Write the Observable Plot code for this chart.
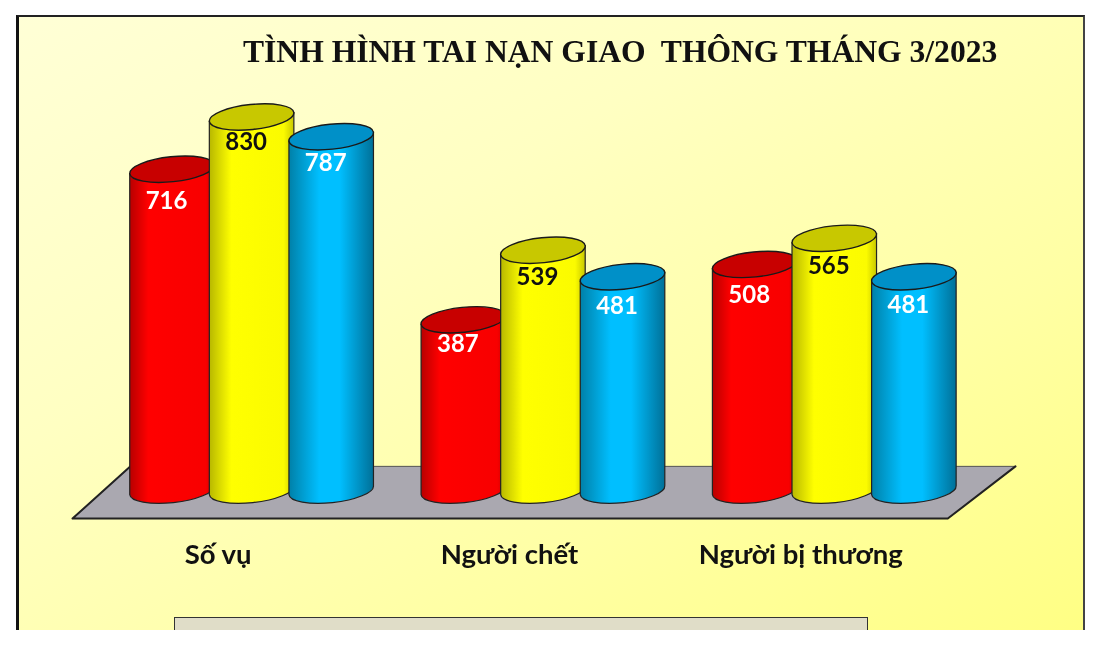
<!DOCTYPE html>
<html lang="vi">
<head>
<meta charset="utf-8">
<script src="https://cdn.jsdelivr.net/npm/d3@7"></script>
<script src="https://cdn.jsdelivr.net/npm/@observablehq/plot@0.6"></script>
<style>
  html, body { margin: 0; padding: 0; background: #fff; width: 1100px; height: 645px; overflow: hidden; }
  #panel { position: absolute; left: 16px; top: 15px; width: 1069px; height: 615px; box-sizing: border-box;
    border-left: 3px solid #111; border-top: 2px solid #222; border-right: 2px solid #444;
    background: linear-gradient(150deg, #ffffd6 0%, #ffffc2 35%, #ffffa4 70%, #ffff84 100%); }
  #box { position: absolute; left: 174px; top: 617px; width: 694px; height: 13px; box-sizing: border-box;
    border: 1.5px solid #333; border-bottom: none; background: #e0ddc8; }
  #title { position: absolute; left: 243px; top: 34px; white-space: pre; font: bold 31.6px "Liberation Serif", serif; color: #111; filter: blur(0.4px); }
  #chart { position: absolute; left: 0; top: 0; filter: blur(0.4px); }
</style>
</head>
<body>
<div id="panel"></div>
<div id="box"></div>
<div id="title">TÌNH HÌNH TAI NẠN GIAO  THÔNG THÁNG 3/2023</div>
<div id="chart"></div>
<script>
const categories = ["Số vụ", "Người chết", "Người bị thương"];
const soVu = [716, 830, 787];
const nguoiChet = [387, 539, 481];
const nguoiBiThuong = [508, 565, 481];
const seriesValues = [soVu, nguoiChet, nguoiBiThuong];

const cylinderBase = 15;          // value at which the cylinders stand on the floor
const groupStep = 3.66;           // slots between groups
const floorSlot = [-1.256, -0.528, 10.59, 9.74, -1.256];
const floorValue = [-46, 68, 68, -46, -46];
const floorEdgeOrder = [1, 0, 3, 2];
const labelDrop = [[32, 25, 26], [24, 27, 29], [30, 27, 28]]; // px below the cylinder's top

const bodyStops = [
  [["0", "#b80000"], ["0.22", "#ff0000"], ["0.9", "#f80000"], ["1", "#c80000"]],
  [["0", "#b8b800"], ["0.26", "#ffff00"], ["0.88", "#fbfb00"], ["1", "#c8c800"]],
  [["0", "#0080a8"], ["0.36", "#00bfff"], ["0.6", "#00bfff"], ["1", "#007098"]]
];
const topColors = ["#c80000", "#c8c800", "#0090c8"];
const labelColors = ["#fff", "#111", "#fff"];

const bars = seriesValues.flatMap((vals, g) => vals.map((value, s) => ({
  group: g, series: s, value, slot: g * groupStep + s
})));
const floor = floorSlot.map((slot, i) => ({slot, value: floorValue[i]}));

const tilt = -6, rx = 42.5, ry = 12.5;
const cosT = Math.cos(tilt * Math.PI / 180), sinT = Math.sin(tilt * Math.PI / 180);

function cylinders(index, scales, values) {
  const g = d3.create("svg:g");
  const defs = g.append("defs");
  bodyStops.forEach((stops, i) => {
    const lg = defs.append("linearGradient").attr("id", "cyl" + i);
    stops.forEach(([o, c]) => lg.append("stop").attr("offset", o).attr("stop-color", c));
  });
  for (const i of index) {
    const d = bars[i];
    const cx = (values.x1[i] + values.x2[i]) / 2;
    const top = values.y2[i], bottom = values.y1[i];
    const lx = cx - rx * cosT, rxx = cx + rx * cosT;
    const dy = rx * sinT; // negative
    g.append("path")
      .attr("d", `M${lx},${top - dy}L${lx},${bottom - dy}A${rx},${ry} ${tilt} 0 0 ${rxx},${bottom + dy}L${rxx},${top + dy}Z`)
      .attr("fill", `url(#cyl${d.series})`).attr("stroke", "#222").attr("stroke-width", 1.2);
    g.append("ellipse")
      .attr("cx", cx).attr("cy", top).attr("rx", rx).attr("ry", ry)
      .attr("transform", `rotate(${tilt} ${cx} ${top})`)
      .attr("fill", topColors[d.series]).attr("stroke", "#1a1a1a").attr("stroke-width", 1.4);
  }
  return g.node();
}

const pxPerValue = (497 - 117) / 830;

const plot = Plot.plot({
  width: 1100,
  height: 645,
  margin: 0,
  style: {background: "transparent", overflow: "visible"},
  x: {type: "linear", domain: [0, 9.34], range: [172, 172 + 79.6 * 9.34], axis: null},
  y: {type: "linear", domain: [0, 830], range: [497, 117], axis: null},
  marks: [
    Plot.line(floor, {x: "slot", y: "value", fill: "#aaa8b0", stroke: "#555", strokeWidth: 1}),
    Plot.line(floorEdgeOrder.map(i => floor[i]), {x: "slot", y: "value", stroke: "#222", strokeWidth: 2}),
    Plot.rect(bars, {
      x1: d => d.slot - 0.53, x2: d => d.slot + 0.53,
      y1: () => cylinderBase, y2: "value",
      render: cylinders
    }),
    Plot.text(bars, {
      x: "slot", y: d => d.value - labelDrop[d.group][d.series] / pxPerValue, text: d => String(d.value),
      dx: -6,
      fill: d => labelColors[d.series],
      fontFamily: "Lato", fontWeight: 700, fontSize: 24
    }),
    Plot.text(categories, {
      x: (d, i) => i * groupStep + 1, y: () => -127,
      text: d => d, dx: -34,
      fill: "#111",
      fontFamily: "Lato", fontWeight: 700, fontSize: 27.5
    })
  ]
});
document.getElementById("chart").append(plot);
</script>
</body>
</html>
